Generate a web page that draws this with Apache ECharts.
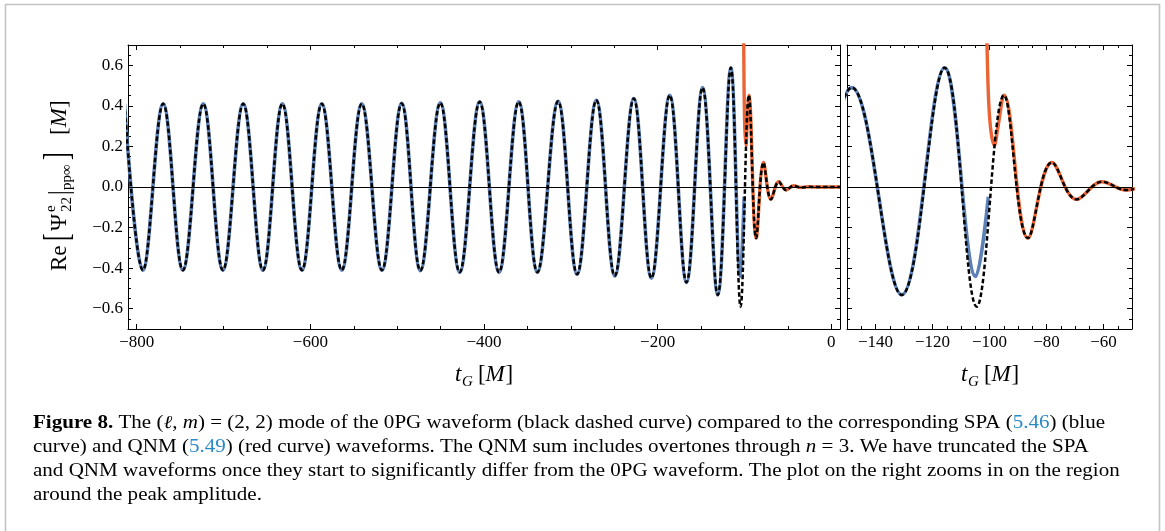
<!DOCTYPE html>
<html><head><meta charset="utf-8">
<script src="https://cdn.jsdelivr.net/npm/echarts@6/dist/echarts.min.js"></script>
<style>html,body{margin:0;padding:0;background:#fff;}#c{width:1165px;height:531px;}</style>
</head><body><div id="c"></div>
<script>
// ---------- data (extrema of each curve) ----------
const t0PG = [-814.0, -792.9, -769.5, -746.8, -723.3, -700.7, -677.3, -654.6, -632.2, -609.7,
  -586.8, -563.8, -540.8, -517.5, -494.8, -473.3, -450.3, -428.0, -405.0, -382.7,
  -360.0, -338.5, -314.7, -292.8, -270.6, -249.4, -227.5, -207.2, -186.1, -166.8,
  -148.3, -130.8, -115.75, -104.5, -94.9, -86.5, -78.1, -69.5, -60.55, -52.1,
  -43.6, -35.2, -26.8, -18.0, 10.0];
const v0PG = [0.41, -0.41, 0.41, -0.41, 0.41, -0.41, 0.41, -0.41, 0.41, -0.41,
  0.41, -0.41, 0.41, -0.41, 0.412, -0.412, 0.415, -0.42, 0.42, -0.42,
  0.42, -0.42, 0.423, -0.43, 0.428, -0.438, 0.436, -0.449, 0.4525, -0.47,
  0.49, -0.532, 0.588, -0.59, 0.4525, -0.252, 0.121, -0.061, 0.026, -0.015,
  0.006, -0.0025, 0.001, 0, 0];

const tSPA = [-814.0, -792.9, -769.5, -746.8, -723.3, -700.7, -677.3, -654.6, -632.2, -609.7,
  -586.8, -563.8, -540.8, -517.5, -494.8, -473.3, -450.3, -428.0, -405.0, -382.7,
  -360.0, -338.5, -314.7, -292.8, -270.6, -249.4, -227.5, -207.2, -186.1, -166.8,
  -148.3, -130.8, -115.75, -104.85, -100.4];
const vSPA = [0.41, -0.41, 0.41, -0.41, 0.41, -0.41, 0.41, -0.41, 0.41, -0.41,
  0.41, -0.41, 0.41, -0.41, 0.412, -0.412, 0.415, -0.42, 0.42, -0.42,
  0.42, -0.42, 0.423, -0.43, 0.428, -0.438, 0.436, -0.449, 0.4525, -0.47,
  0.49, -0.532, 0.588, -0.441, -0.048];

const tQNM = [-101.0, -100.55, -99.7, -98.3, -97.1, -94.9, -86.5, -78.1, -69.5, -60.55,
  -52.1, -43.6, -35.2, -26.8, -18.0, 10.0];
const vQNM = [0.85, 0.52, 0.30, 0.205, 0.29, 0.4525, -0.252, 0.121, -0.061, 0.026,
  -0.015, 0.006, -0.0025, 0.001, 0, 0];

// ---------- ticks ----------
const xMajorLeft = [-800, -600, -400, -200, 0];
const xMajorLeftLabels = ['\u2212800', '\u2212600', '\u2212400', '\u2212200', '0'];
const xMajorRight = [-140, -120, -100, -80, -60];
const xMajorRightLabels = ['\u2212140', '\u2212120', '\u2212100', '\u221280', '\u221260'];
const yMajor = [-0.6, -0.4, -0.2, 0, 0.2, 0.4, 0.6];
const yMajorLabels = ['\u22120.6', '\u22120.4', '\u22120.2', '0.0', '0.2', '0.4', '0.6'];

function steps(a, b, s) { const r = []; for (let k = 0; a + k * s <= b + 1e-9; k++) r.push(+(a + k * s).toFixed(4)); return r; }
const xMinorLeft = steps(-800, 0, 50);
const xMinorRight = steps(-150, -50, 5);
const yMinor = steps(-0.7, 0.7, 0.05);

const FONT = 'Liberation Serif';
function lab(vals, labels) {
  return function (v) { for (let i = 0; i < vals.length; i++) if (Math.abs(vals[i] - v) < 1e-6) return labels[i]; return ''; };
}
function axis(kind, grid, pos, min, max, vals, len, line, labels) {
  return {
    type: 'value', gridIndex: grid, position: pos, min: min, max: max,
    axisLine: { show: line, onZero: false, lineStyle: { color: '#000', width: 1 } },
    axisTick: { show: true, inside: true, length: len, customValues: vals, lineStyle: { color: '#000', width: 1 } },
    axisLabel: labels ? { show: true, customValues: vals, margin: kind === 'x' ? 5 : 5, color: '#000', fontSize: 17, fontFamily: FONT, formatter: lab(vals, labels) } : { show: false },
    splitLine: { show: false }, minorTick: { show: false }
  };
}
const xAxes = [
  axis('x', 0, 'bottom', -810, 10, xMajorLeft, 5, true, xMajorLeftLabels),
  axis('x', 0, 'bottom', -810, 10, xMinorLeft, 3, false, null),
  axis('x', 0, 'top', -810, 10, xMajorLeft, 5, true, null),
  axis('x', 0, 'top', -810, 10, xMinorLeft, 3, false, null),
  axis('x', 1, 'bottom', -150, -50, xMajorRight, 5, true, xMajorRightLabels),
  axis('x', 1, 'bottom', -150, -50, xMinorRight, 3, false, null),
  axis('x', 1, 'top', -150, -50, xMajorRight, 5, true, null),
  axis('x', 1, 'top', -150, -50, xMinorRight, 3, false, null)
];
const yAxes = [
  axis('y', 0, 'left', -0.7, 0.7, yMajor, 5, true, yMajorLabels),
  axis('y', 0, 'left', -0.7, 0.7, yMinor, 3, false, null),
  axis('y', 0, 'right', -0.7, 0.7, yMajor, 5, true, null),
  axis('y', 0, 'right', -0.7, 0.7, yMinor, 3, false, null),
  axis('y', 1, 'left', -0.7, 0.7, yMajor, 5, true, null),
  axis('y', 1, 'left', -0.7, 0.7, yMinor, 3, false, null),
  axis('y', 1, 'right', -0.7, 0.7, yMajor, 5, true, null),
  axis('y', 1, 'right', -0.7, 0.7, yMinor, 3, false, null)
];

function zip(t, v) { return t.map((x, i) => [x, v[i]]); }
const SM = 0.38;
function seriesFor(xi, yi) {
  return [
    { type: 'line', xAxisIndex: xi, yAxisIndex: yi, data: zip(tSPA, vSPA), smooth: SM, showSymbol: false, z: 2,
      lineStyle: { color: '#5D80B6', width: 3.6 },
      markLine: { silent: true, symbol: 'none', label: { show: false }, animation: false,
        lineStyle: { color: '#000', width: 1, type: 'solid' }, data: [{ yAxis: 0 }] } },
    { type: 'line', xAxisIndex: xi, yAxisIndex: yi, data: zip(tQNM, vQNM), smooth: SM, showSymbol: false, z: 3,
      lineStyle: { color: '#EA6436', width: 3.4 } },
    { type: 'line', xAxisIndex: xi, yAxisIndex: yi, data: zip(t0PG, v0PG), smooth: SM, showSymbol: false, z: 4,
      lineStyle: { color: '#000', width: 2.5, type: [4.5, 2.6], cap: 'butt' } }
  ];
}

function txt(s, x, y, size, italic, extra) {
  const o = { type: 'text', x: x, y: y, style: { text: s, fontSize: size, fontFamily: FONT, fontStyle: italic ? 'italic' : 'normal', fill: '#000', textAlign: 'left', textVerticalAlign: 'middle' } };
  if (extra) Object.assign(o, extra);
  return o;
}
function xTitle(cx) {
  return { type: 'group', x: cx, y: 375, children: [
    txt('t', -29, 0, 23, true), txt('G', -22, 7, 15, true),
    txt('[', -6, 0, 23, false), txt('M', 1.5, 0, 23, true), txt(']', 21.5, 0, 23, false)
  ] };
}
const yTitle = { type: 'group', x: 60, y: 187, rotation: Math.PI / 2, children: [
  txt('Re', -84, 0, 23, false),
  txt('[', -54, -1, 23, false, { scaleY: 1.55 }),
  txt('\u03A8', -44, 0, 23, false),
  txt('e', -25, -9, 15, false),
  txt('22', -25, 7, 15, false),
  txt('|', -8, 0, 23, false, { scaleY: 1.25 }),
  txt('pp\u221E', -3, 7, 15, false),
  txt(']', 27, -1, 23, false, { scaleY: 1.55 }),
  txt('[', 52, 0, 23, false), txt('M', 59.7, 0, 23, true), txt(']', 79, 0, 23, false)
] };

const CAP = 18.5;
const rich = {
  n: { fontSize: CAP, fontFamily: FONT, fill: '#000' },
  b: { fontSize: CAP, fontFamily: FONT, fontWeight: 'bold', fill: '#000' },
  i: { fontSize: CAP, fontFamily: FONT, fontStyle: 'italic', fill: '#000' },
  l: { fontSize: CAP, fontFamily: FONT, fill: '#2B8AC6' }
};
const captionLines = [
  '{b|Figure 8.}{n| The (}{i|\u2113}{n|, }{i|m}{n|) = (2, 2) mode of the 0PG waveform (black dashed curve) compared to the corresponding SPA (}{l|5.46}{n|) (blue}',
  '{n|curve) and QNM (}{l|5.49}{n|) (red curve) waveforms. The QNM sum includes overtones through }{i|n}{n| = 3. We have truncated the SPA}',
  '{n|and QNM waveforms once they start to significantly differ from the 0PG waveform. The plot on the right zooms in on the region}',
  '{n|around the peak amplitude.}'
];
const caption = captionLines.map((s, k) => ({ type: 'text', x: 33, y: 423 + 24 * k, scaleX: 1.137,
  style: { text: s, rich: rich, fontSize: CAP, fontFamily: FONT, textVerticalAlign: 'middle', fill: '#000' } }));

const chart = echarts.init(document.getElementById('c'), null, { renderer: 'canvas' });
chart.setOption({
  animation: false,
  backgroundColor: '#fff',
  textStyle: { fontFamily: FONT },
  grid: [
    { left: 128, top: 45, width: 712, height: 284 },
    { left: 847, top: 45, width: 285, height: 284 }
  ],
  xAxis: xAxes,
  yAxis: yAxes,
  series: seriesFor(0, 0).concat(seriesFor(4, 4)),
  graphic: [
    { type: 'rect', silent: true, z: -10, shape: { x: 5.5, y: 4.5, width: 1154, height: 600 }, style: { fill: 'none', stroke: '#c4c4c4', lineWidth: 1.6 } },
    yTitle, xTitle(484), xTitle(990)
  ].concat(caption)
});
</script></body></html>
